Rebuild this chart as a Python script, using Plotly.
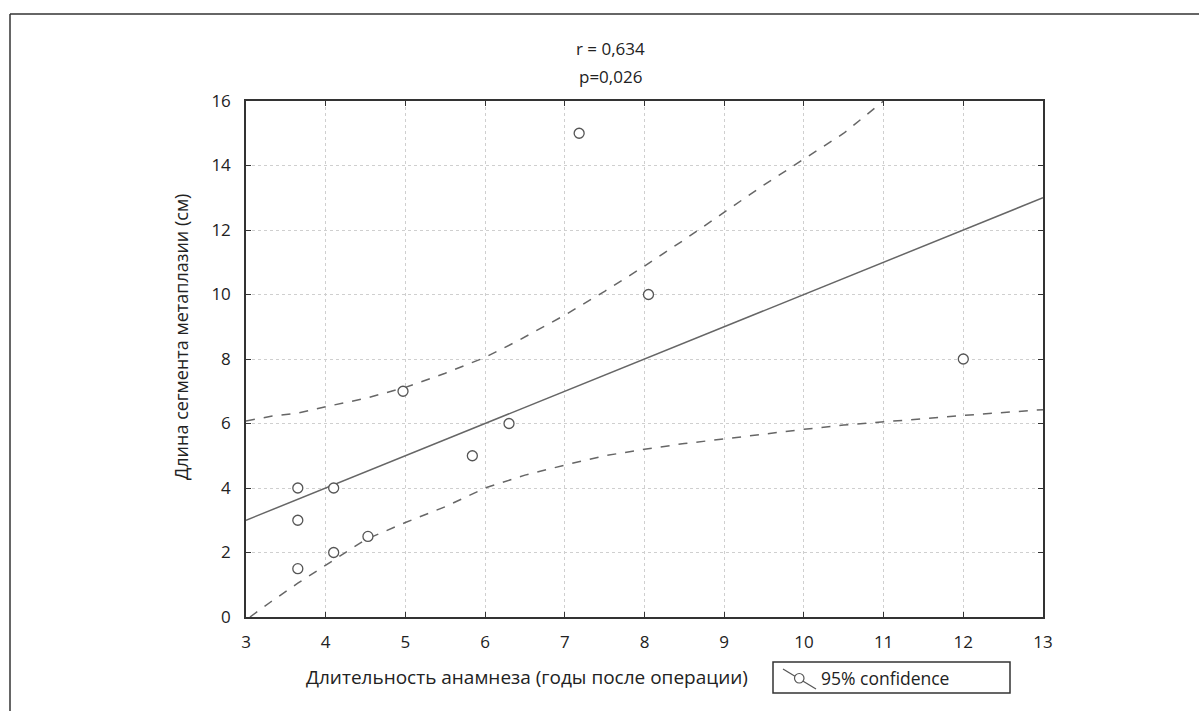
import plotly.graph_objects as go

# Observed data points
dur_years = [3.65, 3.65, 3.65, 4.1, 4.1, 4.53, 4.97, 5.84, 6.3, 7.18, 8.05, 12.0]
seg_len = [1.5, 3.0, 4.0, 2.0, 4.0, 2.5, 7.0, 5.0, 6.0, 15.0, 10.0, 8.0]

# Regression line end points
fit_x = [3.0, 13.0]
fit_y = [3.0, 13.0]

# 95% confidence bands
upper_x = [3.0, 3.33, 3.65, 4.0, 4.5, 5.0, 5.5, 6.0, 6.4, 6.8, 7.0, 7.5, 8.0, 8.5, 9.0, 9.5, 10.0, 10.5, 11.0]
upper_y = [6.08, 6.23, 6.32, 6.52, 6.78, 7.12, 7.56, 8.05, 8.55, 9.1, 9.36, 10.1, 10.88, 11.7, 12.55, 13.4, 14.2, 15.0, 16.0]
lower_x = [3.05, 3.3, 3.65, 4.0, 4.5, 5.0, 5.5, 6.0, 6.5, 7.0, 7.5, 8.0, 8.5, 9.0, 9.5, 10.0, 10.5, 11.0, 11.5, 12.0, 12.5, 13.0]
lower_y = [0.0, 0.45, 1.05, 1.6, 2.4, 2.93, 3.42, 4.0, 4.4, 4.71, 5.0, 5.2, 5.38, 5.52, 5.68, 5.82, 5.95, 6.06, 6.15, 6.25, 6.35, 6.43]

x_ticks = [3, 4, 5, 6, 7, 8, 9, 10, 11, 12, 13]
y_ticks = [0, 2, 4, 6, 8, 10, 12, 14, 16]

FONT = "Open Sans"
LINE = "#666666"
TXT = "#222222"

fig = go.Figure()
fig.add_trace(go.Scatter(x=upper_x, y=upper_y, mode="lines",
                         line=dict(color=LINE, width=1.5, dash="dash"), showlegend=False))
fig.add_trace(go.Scatter(x=lower_x, y=lower_y, mode="lines",
                         line=dict(color=LINE, width=1.5, dash="dash"), showlegend=False))
fig.add_trace(go.Scatter(x=fit_x, y=fit_y, mode="lines",
                         line=dict(color=LINE, width=1.5), showlegend=False))
fig.add_trace(go.Scatter(x=dur_years, y=seg_len, mode="markers",
                         marker=dict(symbol="circle", size=10, color="white",
                                     line=dict(color="#555555", width=1.3)),
                         showlegend=False, cliponaxis=False))

axis_common = dict(showline=True, linecolor="#333333", linewidth=1.5, mirror="ticks",
                   ticks="inside", ticklen=5, tickcolor="#333333", tickwidth=1.2,
                   showgrid=True, gridcolor="#cfcfcf", griddash="dot", gridwidth=1,
                   zeroline=False, tickfont=dict(family=FONT, size=17, color=TXT))

fig.update_layout(
    width=1199, height=711,
    margin=dict(l=246, r=156, t=101, b=94),
    paper_bgcolor="white", plot_bgcolor="white",
    font=dict(family=FONT, size=17, color=TXT),
    xaxis=dict(range=[3, 13], tickvals=x_ticks, ticklabelstandoff=9, **axis_common),
    yaxis=dict(range=[0, 16], tickvals=y_ticks, ticklabelstandoff=10, **axis_common),
    showlegend=False,
)

# page px -> paper helpers
def px_x(px):
    return (px - 246) / 797.0

def px_y(py):
    return (617 - py) / 516.0

annotations = [
    dict(text="r = 0,634", x=px_x(610), y=px_y(48), xref="paper", yref="paper",
         showarrow=False, xanchor="center", yanchor="middle", font=dict(size=17)),
    dict(text="p=0,026", x=px_x(610), y=px_y(77), xref="paper", yref="paper",
         showarrow=False, xanchor="center", yanchor="middle", font=dict(size=17)),
    dict(text="Длительность анамнеза (годы после операции)", x=px_x(527), y=px_y(677),
         xref="paper", yref="paper", showarrow=False, xanchor="center", yanchor="middle",
         font=dict(size=19)),
    dict(text="Длина сегмента метаплазии (см)", x=px_x(181), y=px_y(337),
         xref="paper", yref="paper", showarrow=False, textangle=-90,
         xanchor="center", yanchor="middle", font=dict(size=18)),
    dict(text="95% confidence", x=px_x(819), y=px_y(678), xref="paper", yref="paper",
         showarrow=False, xanchor="left", yanchor="middle", font=dict(size=17.5)),
]
fig.update_layout(annotations=annotations)

shapes = [
    # outer frame (top and left edges visible)
    dict(type="line", xref="paper", yref="paper", x0=px_x(10), y0=px_y(14), x1=px_x(1199), y1=px_y(14),
         line=dict(color="#333333", width=1.5)),
    dict(type="line", xref="paper", yref="paper", x0=px_x(10), y0=px_y(14), x1=px_x(10), y1=px_y(711),
         line=dict(color="#333333", width=1.5)),
    # legend box
    dict(type="rect", xref="paper", yref="paper", x0=px_x(773), y0=px_y(662), x1=px_x(1010), y1=px_y(693),
         line=dict(color="#333333", width=1.5), fillcolor="white", layer="below"),
    # legend icon
    dict(type="line", xref="paper", yref="paper", x0=px_x(783), y0=px_y(669), x1=px_x(816), y1=px_y(689),
         line=dict(color="#555555", width=1.2)),
    dict(type="circle", xref="paper", yref="paper", x0=px_x(794.5), y0=px_y(673.5), x1=px_x(804), y1=px_y(683),
         line=dict(color="#555555", width=1.2), fillcolor="white"),
]
fig.update_layout(shapes=shapes)

fig.write_html("out.html", config={"displayModeBar": False},
               post_script="document.body.style.margin='0';")
